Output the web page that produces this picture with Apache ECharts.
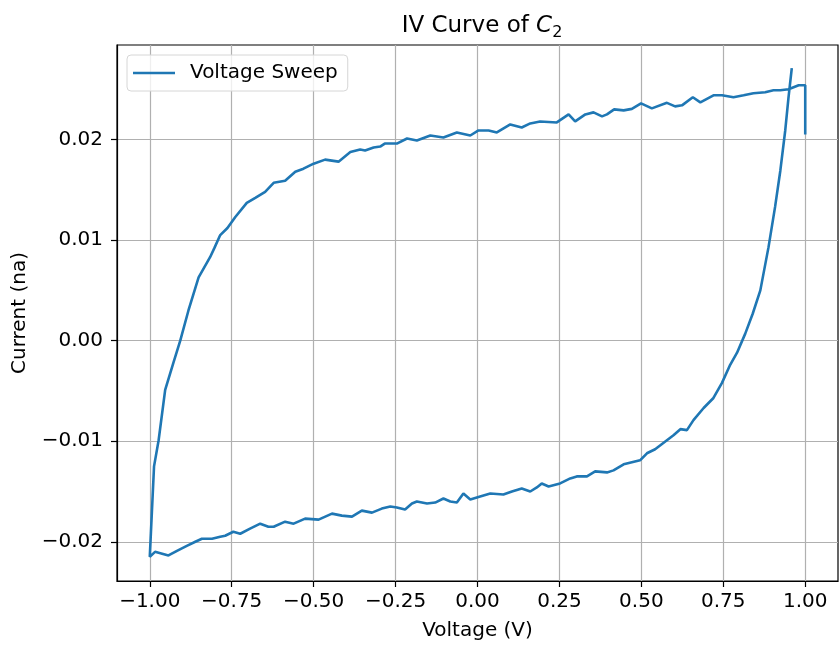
<!DOCTYPE html>
<html lang="en">
<head>
    <meta charset="UTF-8">
    <title>IV Curve of C2</title>
    <script src="https://cdn.jsdelivr.net/npm/echarts@6/dist/echarts.min.js"></script>
    <style>
        body { margin: 0; background: #fff; }
        #chart { width: 839px; height: 646px; }
    </style>
</head>
<body>
<div id="chart"></div>
<script>
    // upper branch, voltage ascending (ends with the drop at V = 1)
    const upperV = [-1.000, -0.987, -0.973, -0.953, -0.928, -0.907, -0.882, -0.851, -0.816, -0.803,
        -0.785, -0.763, -0.739, -0.704, -0.678, -0.648, -0.622, -0.587, -0.556, -0.531,
        -0.500, -0.465, -0.424, -0.388, -0.358, -0.343, -0.317, -0.297, -0.283, -0.246,
        -0.215, -0.185, -0.144, -0.104, -0.063, -0.022, 0.003, 0.034, 0.059, 0.100,
        0.135, 0.161, 0.191, 0.242, 0.278, 0.298, 0.329, 0.354, 0.380, 0.395,
        0.417, 0.446, 0.471, 0.499, 0.532, 0.578, 0.603, 0.624, 0.657, 0.680,
        0.720, 0.746, 0.781, 0.812, 0.842, 0.878, 0.903, 0.924, 0.949, 0.980,
        1.000, 1.000];
    const upperI = [-0.0215, -0.0125, -0.0099, -0.0049, -0.0022, 0.0000, 0.0030, 0.0063, 0.0083, 0.0092,
        0.0105, 0.0112, 0.0123, 0.0137, 0.0142, 0.0148, 0.0157, 0.0159, 0.0168, 0.0171,
        0.0176, 0.0180, 0.0178, 0.01875, 0.0190, 0.0189, 0.0192, 0.0193, 0.0196, 0.0196,
        0.0201, 0.0199, 0.0204, 0.0202, 0.0207, 0.0204, 0.0209, 0.0209, 0.0207, 0.0215,
        0.0212, 0.0216, 0.0218, 0.0217, 0.0225, 0.0218, 0.0225, 0.0227, 0.0223, 0.0225,
        0.0230, 0.0229, 0.02305, 0.0236, 0.0231, 0.02365, 0.0233, 0.0234, 0.0242, 0.0237,
        0.0244, 0.0244, 0.0242, 0.0244, 0.0246, 0.0247, 0.0249, 0.0249, 0.0250, 0.0254,
        0.0254, 0.0205];

    // lower branch, voltage ascending from the corner at V = -1
    const lowerV = [-0.984, -0.943, -0.917, -0.887, -0.861, -0.841, -0.810, -0.785, -0.770, -0.745,
        -0.724, -0.694, -0.663, -0.638, -0.622, -0.587, -0.561, -0.526, -0.485, -0.444,
        -0.414, -0.383, -0.353, -0.322, -0.292, -0.266, -0.246, -0.221, -0.200, -0.185,
        -0.154, -0.129, -0.104, -0.083, -0.063, -0.043, -0.022, 0.008, 0.039, 0.079,
        0.105, 0.135, 0.161, 0.181, 0.196, 0.217, 0.252, 0.283, 0.303, 0.334,
        0.359, 0.395, 0.415, 0.446, 0.471, 0.496, 0.517, 0.542, 0.558, 0.578,
        0.598, 0.619, 0.639, 0.659, 0.690, 0.720, 0.746, 0.771, 0.792, 0.817,
        0.840, 0.863, 0.888, 0.908, 0.924, 0.939, 0.949, 0.959];
    const lowerI = [-0.0210, -0.02136, -0.0209, -0.0204, -0.0200, -0.0197, -0.0197, -0.0195, -0.0194, -0.0190,
        -0.0192, -0.0187, -0.0182, -0.0185, -0.0185, -0.0180, -0.0182, -0.0177, -0.0178, -0.0172,
        -0.0174, -0.0175, -0.0169, -0.0171, -0.0167, -0.0165, -0.0166, -0.0168, -0.0162, -0.0160,
        -0.0162, -0.0161, -0.0157, -0.0160, -0.0161, -0.0152, -0.0158, -0.0155, -0.0152, -0.0153,
        -0.0150, -0.0147, -0.0150, -0.0146, -0.0142, -0.0145, -0.0142, -0.0137, -0.0135, -0.0135,
        -0.0130, -0.0131, -0.0129, -0.0123, -0.0121, -0.0119, -0.0112, -0.0108, -0.0104, -0.0099,
        -0.0094, -0.0088, -0.0089, -0.0079, -0.0067, -0.0057, -0.0042, -0.0024, -0.0012, 0.0007,
        0.0027, 0.0050, 0.0093, 0.0133, 0.0169, 0.0209, 0.0242, 0.0271];

    const xTicks = [-1.0, -0.75, -0.5, -0.25, 0, 0.25, 0.5, 0.75, 1.0];
    const yTicks = [-0.02, -0.01, 0, 0.01, 0.02];

    // one continuous trace: down the upper branch to the corner, then along the lower one
    const sweep = [];
    for (let i = upperV.length - 1; i >= 0; i--) sweep.push([upperV[i], upperI[i]]);
    for (let i = 0; i < lowerV.length; i++) sweep.push([lowerV[i], lowerI[i]]);

    const fmt = v => v.toFixed(2).replace('-', '\u2212');
    const font = 'DejaVu Sans';
    const fs = 20;

    const chart = echarts.init(document.getElementById('chart'));
    chart.setOption({
        animation: false,
        textStyle: { fontFamily: font, color: '#000' },
        title: {
            text: '{a|IV Curve of }{c|C}{s|2}',
            left: 477,
            textAlign: 'center',
            top: 7,
            textStyle: {
                fontWeight: 'normal',
                rich: {
                    a: { fontFamily: font, fontSize: 23, fontWeight: 'normal', color: '#000', lineHeight: 29 },
                    c: { fontFamily: font, fontSize: 23, fontWeight: 'normal', fontStyle: 'italic', color: '#000', lineHeight: 29 },
                    s: { fontFamily: font, fontSize: 16, fontWeight: 'normal', color: '#000', lineHeight: 15, verticalAlign: 'bottom' }
                }
            }
        },
        legend: {
            left: 127,
            top: 55,
            orient: 'vertical',
            icon: 'rect',
            itemWidth: 42,
            itemHeight: 2.5,
            padding: [8, 10, 8, 6],
            backgroundColor: 'rgba(255,255,255,0.8)',
            borderColor: '#d6d6d6',
            borderWidth: 1,
            borderRadius: 4,
            textStyle: { fontFamily: font, fontSize: fs, color: '#000', padding: [0, 0, 0, 10] },
            data: ['Voltage Sweep']
        },
        grid: {
            left: 117, right: 1, top: 45, bottom: 64,
            show: true,
            borderColor: '#000',
            borderWidth: 1.2,
            containLabel: false
        },
        xAxis: {
            type: 'value',
            min: -1.1,
            max: 1.1,
            name: 'Voltage (V)',
            nameLocation: 'middle',
            nameGap: 40,
            nameTextStyle: { fontFamily: font, fontSize: fs, color: '#000' },
            axisLine: { show: true, onZero: false, lineStyle: { color: '#000', width: 1.2 } },
            axisTick: { show: true, inside: false, length: 6, customValues: xTicks, lineStyle: { color: '#000', width: 1.2 } },
            axisLabel: { customValues: xTicks, margin: 11, fontSize: fs, color: '#000', fontFamily: font, formatter: fmt },
            splitLine: { show: true, lineStyle: { color: '#b0b0b0', width: 1.2 } }
        },
        yAxis: {
            type: 'value',
            min: -0.0239,
            max: 0.0294,
            name: 'Current (na)',
            nameLocation: 'middle',
            nameGap: 87,
            nameTextStyle: { fontFamily: font, fontSize: fs, color: '#000' },
            axisLine: { show: true, onZero: false, lineStyle: { color: '#000', width: 1.2 } },
            axisTick: { show: true, inside: false, length: 6, customValues: yTicks, lineStyle: { color: '#000', width: 1.2 } },
            axisLabel: { customValues: yTicks, margin: 14, fontSize: fs, color: '#000', fontFamily: font, formatter: fmt },
            splitLine: { show: true, lineStyle: { color: '#b0b0b0', width: 1.2 } }
        },
        series: [{
            name: 'Voltage Sweep',
            type: 'line',
            data: sweep,
            symbol: 'none',
            smooth: false,
            lineStyle: { color: '#1f77b4', width: 2.6 },
            itemStyle: { color: '#1f77b4' }
        }]
    });
</script>
</body>
</html>
